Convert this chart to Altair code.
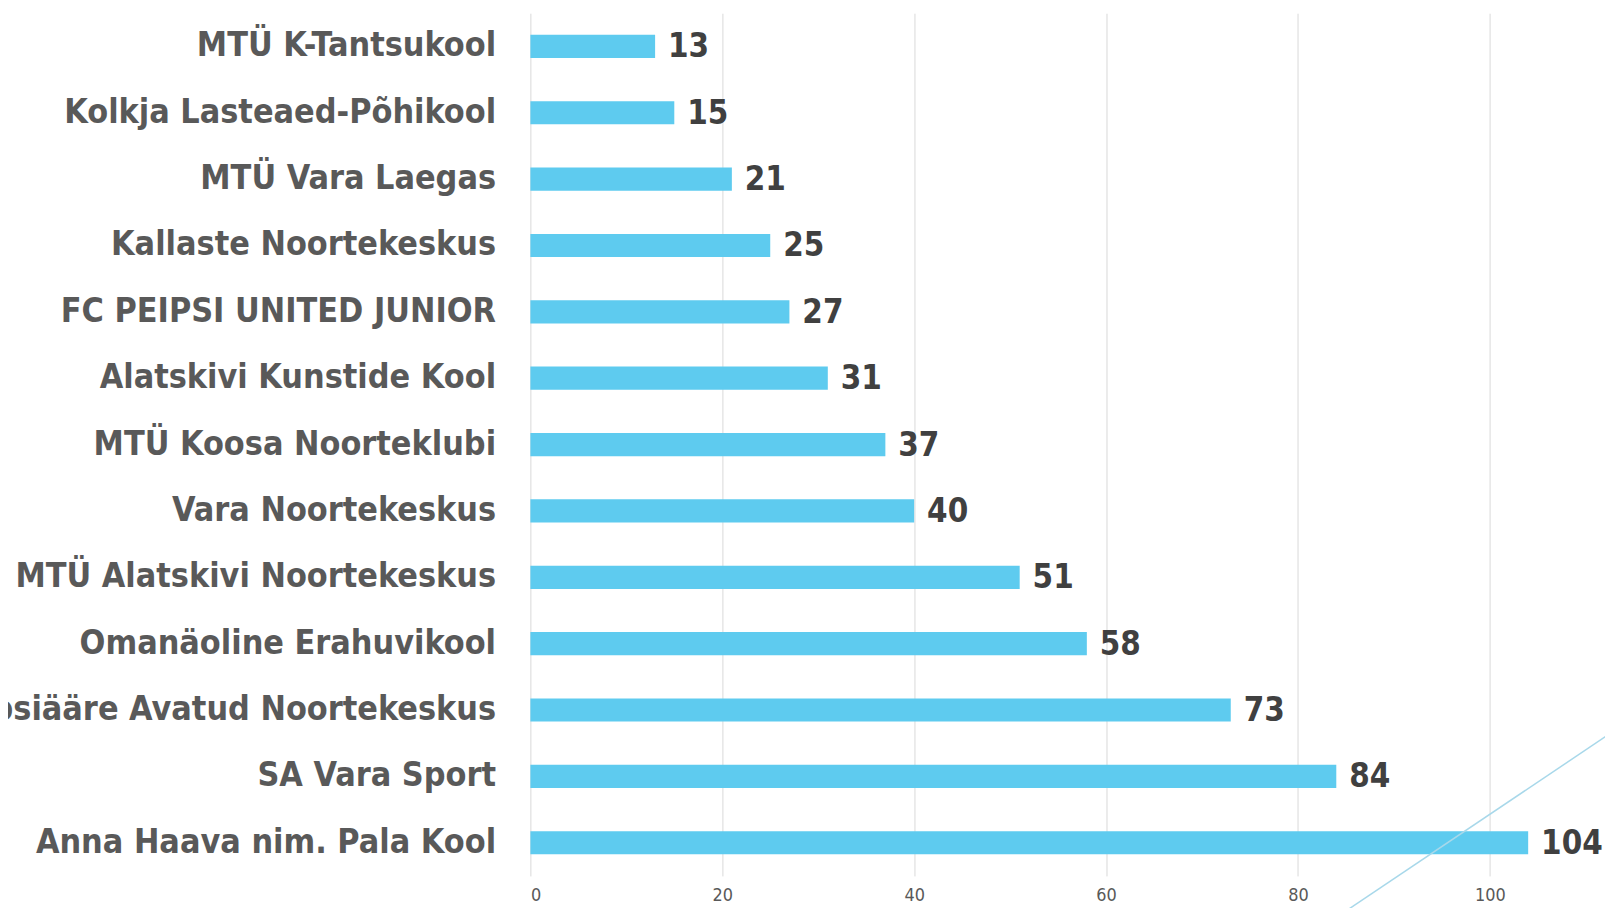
import altair as alt
import pandas as pd

categories = [
    "MTÜ K-Tantsukool",
    "Kolkja Lasteaed-Põhikool",
    "MTÜ Vara Laegas",
    "Kallaste Noortekeskus",
    "FC PEIPSI UNITED JUNIOR",
    "Alatskivi Kunstide Kool",
    "MTÜ Koosa Noorteklubi",
    "Vara Noortekeskus",
    "MTÜ Alatskivi Noortekeskus",
    "Omanäoline Erahuvikool",
    "Peipsiääre Avatud Noortekeskus",
    "SA Vara Sport",
    "Anna Haava nim. Pala Kool",
]
values = [13, 15, 21, 25, 27, 31, 37, 40, 51, 58, 73, 84, 104]
tick_values = [0, 20, 40, 60, 80, 100]

df = pd.DataFrame({"name": categories, "value": values})

W, H = 1078, 867
FONT = "DejaVu Sans Condensed"

x_enc = alt.X(
    "value:Q",
    scale=alt.Scale(domain=[0, 111.8], nice=False, zero=True),
    axis=alt.Axis(
        values=tick_values, title=None, grid=True, gridColor="#d9d9d9", gridWidth=1,
        domain=False, ticks=False, labelFont=FONT, labelFontSize=18,
        labelColor="#595959", labelPadding=11,
    ),
)
y_enc = alt.Y(
    "name:N", sort=categories,
    scale=alt.Scale(paddingInner=0, paddingOuter=0),
    axis=alt.Axis(
        title=None, domain=False, ticks=False, labelFont=FONT, labelFontSize=34,
        labelFontWeight="bold", labelColor="#595959", labelPadding=35, labelLimit=1000,
    ),
)

base = alt.Chart(df)
bars = base.mark_bar(size=23.3, color="#5ECBEF").encode(x=x_enc, y=y_enc)
labels = base.mark_text(
    align="left", baseline="middle", dx=13, dy=1, font=FONT, fontSize=33,
    fontWeight="bold", color="#404040",
).encode(x="value:Q", y=alt.Y("name:N", sort=categories), text="value:Q")

deco = alt.Chart(pd.DataFrame({"d": [0]})).mark_rule(
    color="#a8d8ea", strokeWidth=1.5
).encode(
    x=alt.value(817), x2=alt.value(1082), y=alt.value(904), y2=alt.value(726)
)

chart = alt.layer(bars, labels, deco).properties(
    width=W, height=H,
    autosize=alt.AutoSizeParams(type="none"),
    padding={"left": 525, "top": 3, "right": 2, "bottom": 30},
    background="white",
).configure_view(stroke=None)

chart.save("out.html", embed_options={"renderer": "svg", "actions": False})
